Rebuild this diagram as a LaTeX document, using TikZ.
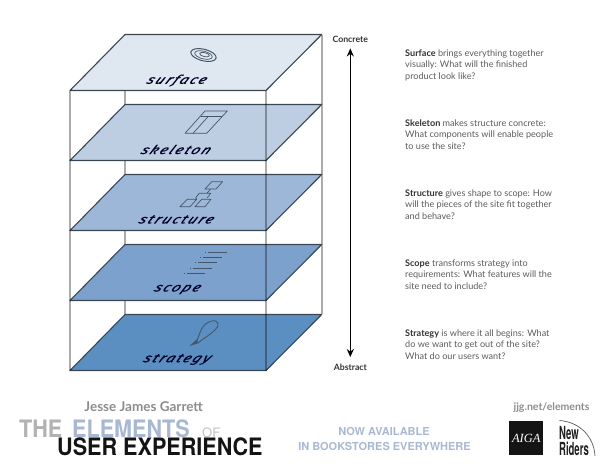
\documentclass[tikz,border=0pt]{standalone}
\usepackage{fontspec}
\setmainfont{Lato}
\newfontfamily\labfont[LetterSpace=11,FakeBold=0.7]{Fira Sans}
\newfontfamily\headfont{TeX Gyre Heros}
\newfontfamily\serifi{Liberation Serif}
\usetikzlibrary{arrows.meta}
\definecolor{planeline}{HTML}{3A4652}
\definecolor{iconline}{HTML}{46566A}
\definecolor{bodygray}{HTML}{5C5C5C}
\definecolor{boldgray}{HTML}{333333}
\definecolor{softblue}{HTML}{A9B8D2}
\definecolor{softgray}{HTML}{8C8C8C}
\definecolor{surfacefill}{HTML}{DFE7F0}
\definecolor{skeletonfill}{HTML}{BDCEE2}
\definecolor{structurefill}{HTML}{9DB7D8}
\definecolor{scopefill}{HTML}{7CA1CC}
\definecolor{strategyfill}{HTML}{5B8EC1}
\tikzset{
  plane/.style={draw=planeline,line width=1.1pt,line join=round},
  backpost/.style={draw=black!33,line width=1.8pt},
  frontpost/.style={draw=black,draw opacity=.33,line width=1.8pt},
  layerlabel/.style={inner sep=0pt,xslant=.62,yscale=.82,transform shape,text=black!85!blue,font=\labfont\itshape\fontsize{15}{16}\selectfont},
  desc/.style={anchor=north west,inner sep=0pt,align=left,text=bodygray,font=\fontsize{9.1}{11.45}\selectfont},
  axislabel/.style={inner sep=0pt,text=boldgray,font=\fontsize{8.7}{10}\selectfont\bfseries},
  icon/.style={draw=iconline,line width=.7pt,line join=round},
  title/.style={inner sep=0pt,anchor=base west,xscale=.9,transform shape,font=\headfont\bfseries\fontsize{24}{26}\selectfont},
  promo/.style={inner sep=0pt,text=softblue,font=\headfont\bfseries\fontsize{11}{12}\selectfont},
  riderword/.style={inner sep=0pt,anchor=base west,xscale=.53,transform shape,text=black!88,font=\headfont\bfseries\fontsize{18}{19}\selectfont},
}
\newcommand{\planeat}[2]{%
  \path[plane,fill=#2] (125,#1) -- (321.7,#1) -- (266,#1+56) -- (70,#1+56) -- cycle;}
\begin{document}
\begin{tikzpicture}[x=1pt,y=-1pt]
\useasboundingbox (0,0) rectangle (615,475);
% back posts
\draw[backpost] (125,34.5) -- (125,314);
\draw[backpost] (321.7,34.5) -- (321.7,314);
% planes
\planeat{34.5}{surfacefill}
\planeat{104.5}{skeletonfill}
\planeat{174.5}{structurefill}
\planeat{244.5}{scopefill}
\planeat{314.5}{strategyfill}
% front posts
\draw[frontpost] (70,90.5) -- (70,370.5);
\draw[frontpost] (266,90.5) -- (266,370.5);
% icons
\begin{scope}[icon]
  \draw[line width=1pt] (203.5,55) ellipse [x radius=13,y radius=5.8,rotate=-14];
  \draw (203.5,55) ellipse [x radius=9,y radius=3.8,rotate=-14];
  \draw (204.5,54.6) ellipse [x radius=5,y radius=2,rotate=-14];
  % skeleton
  \draw (185,133.3) -- (205,111) -- (227.3,111) -- (206.7,133.3) -- cycle;
  \draw (200.7,116.7) -- (222.2,116.7);
  \draw (193,133.3) -- (208,116.7);
  % structure
  \draw (205,189) -- (211.7,181.7) -- (222.7,181.7) -- (216,189) -- cycle;
  \draw (195.7,197.7) -- (199.3,193.3) -- (210.7,193.3) -- (207.3,197.7);
  \draw (180,206.7) -- (187.3,199.3) -- (196.7,199.3) -- (190,206.7) -- cycle;
  \draw (195,206.7) -- (201.7,199.3) -- (211,199.3) -- (205,206.7) -- cycle;
  \draw (207,193.3) -- (210.5,189);
  \draw (196.7,199.3) -- (195.7,197.7);
  % scope
  \foreach \yy/\xa/\xb in {252.3/205/226.7,257.3/200/221.7,262.7/195/216.7,268/190/211.7,273.3/184.3/205}{
    \draw[line width=.9pt] (\xa+3,\yy) -- (\xb,\yy);
    \draw[line width=.9pt] (\xa,\yy) -- (\xa+1,\yy);
  }
  % strategy
  \draw[line width=.9pt] (197,340.5) .. controls (200,333) and (202,323) .. (212,321) .. controls (219,319.5) and (220,326) .. (215,330) .. controls (210,335) and (204,338) .. (198.5,342.5);
  \fill[iconline] (189.5,346) -- (196.5,339.5) -- (199,343) -- cycle;
\end{scope}
% layer labels
\node[layerlabel] (surfacelab) at (177,80.5) {surface};
\node[layerlabel] (skeletonlab) at (177,149.5) {skeleton};
\node[layerlabel] (structurelab) at (177,219.5) {structure};
\node[layerlabel] (scopelab) at (177,289.5) {scope};
\node[layerlabel] (strategylab) at (177,359.5) {strategy};
% axis
\node[axislabel] (concrete) at (350.3,39) {Concrete};
\node[axislabel] (abstract) at (350.3,367.5) {Abstract};
\draw[{Stealth[length=8pt,width=7pt]}-{Stealth[length=8pt,width=7pt]},line width=1.3pt,shorten <=6pt,shorten >=7pt] (concrete.south) -- (abstract.north);
% descriptions
\node[desc] (dsurface) at (405,49.5) {{\color{boldgray}\bfseries Surface} brings everything together\\visually: What will the finished\\product look like?};
\node[desc] (dskeleton) at (405,119.5) {{\color{boldgray}\bfseries Skeleton} makes structure concrete:\\What components will enable people\\to use the site?};
\node[desc] (dstructure) at (405,189.5) {{\color{boldgray}\bfseries Structure} gives shape to scope: How\\will the pieces of the site fit together\\and behave?};
\node[desc] (dscope) at (405,259.5) {{\color{boldgray}\bfseries Scope} transforms strategy into\\requirements: What features will the\\site need to include?};
\node[desc] (dstrategy) at (405,329.5) {{\color{boldgray}\bfseries Strategy} is where it all begins: What\\do we want to get out of the site?\\What do our users want?};
% footer
\node[inner sep=0pt,text=softgray,font=\fontsize{13.5}{15}\selectfont\bfseries] (author) at (143.7,407) {Jesse James Garrett};
\node[title,text=black!30] (the) at (19,437.5) {THE};
\node[title,text=softblue] (elements) at (72,437.5) {ELEMENTS};
\node[inner sep=0pt,anchor=base west,text=black!25,font=\headfont\fontsize{13}{14}\selectfont] (of) at (202,437) {OF};
\node[title,text=black!92] (uxtitle) at (57,455) {USER EXPERIENCE};
\node[promo] (now) at (384,431.7) {NOW AVAILABLE};
\node[promo] (stores) at (384.5,446) {IN BOOKSTORES EVERYWHERE};
\node[inner sep=0pt,text=softgray,font=\fontsize{10.5}{12}\selectfont\bfseries] (url) at (551.5,408) {jjg.net/elements};
\node[fill=black!92,minimum width=34pt,minimum height=34pt,inner sep=0pt,text=white,font=\serifi\itshape\fontsize{12.5}{13}\selectfont] (aiga) at (526.3,438) {AIGA};
\node[riderword] (newword) at (559,439.5) {New};
\node[riderword] (riders) at (559,455.5) {Riders};
\coordinate (arcstart) at (559.5,420.5);
\coordinate (arcend) at (595,456);
\draw[line width=.7pt,black!65] (arcstart) .. controls (580,422) and (594,437) .. (arcend);
\end{tikzpicture}
\end{document}
